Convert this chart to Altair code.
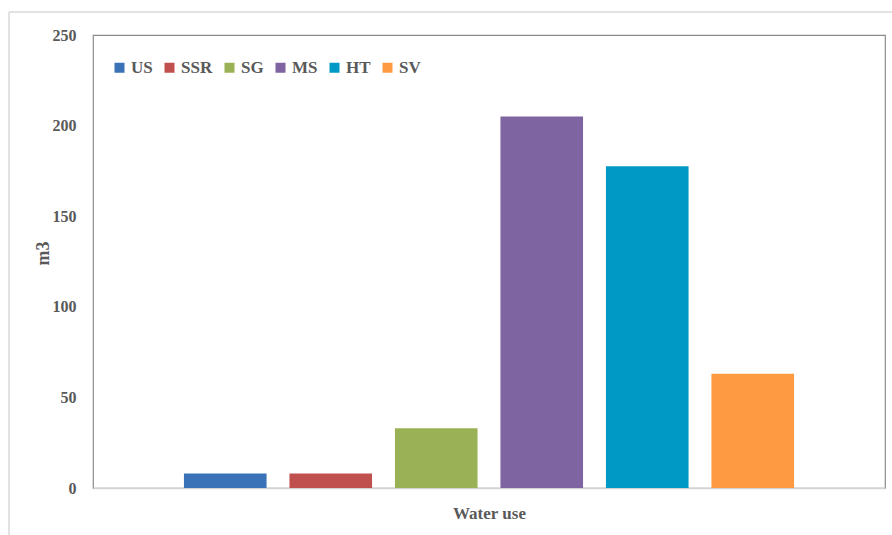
import altair as alt
import pandas as pd

# Water use per scenario (m3)
series = ["US", "SSR", "SG", "MS", "HT", "SV"]
values = [8, 8, 33, 205, 177.5, 63]
colors = ["#3A72B7", "#C0504D", "#9BB155", "#7E64A0", "#0099C5", "#FD9A42"]
y_ticks = [0, 50, 100, 150, 200, 250]

df = pd.DataFrame({"series": series, "value": values})

FONT = "Liberation Serif"
GREY = "#595959"

bars = alt.Chart(df).mark_bar().encode(
    x=alt.X(
        "series:N",
        sort=series,
        scale=alt.Scale(paddingInner=0.217, paddingOuter=0.862),
        axis=alt.Axis(
            labels=False,
            ticks=False,
            title="Water use",
            titleFont=FONT,
            titleFontSize=17,
            titleFontWeight="bold",
            titleColor=GREY,
            titleX=396,
            titleY=30,
            titleBaseline="alphabetic",
            domainColor="#d4d4d4",
            domainWidth=1.5,
        ),
    ),
    y=alt.Y(
        "value:Q",
        scale=alt.Scale(domain=[0, 250], nice=False),
        axis=alt.Axis(
            values=y_ticks,
            grid=False,
            ticks=False,
            domain=False,
            labelFont=FONT,
            labelFontSize=16,
            labelFontWeight="bold",
            labelColor=GREY,
            labelPadding=17,
            title="m3",
            titleFont=FONT,
            titleFontSize=18,
            titleFontWeight="bold",
            titleColor=GREY,
            titleAngle=270,
            titleX=-45,
            titleY=218,
            titleBaseline="alphabetic",
            titleAlign="center",
        ),
    ),
    color=alt.Color(
        "series:N",
        sort=series,
        scale=alt.Scale(domain=series, range=colors),
        legend=alt.Legend(
            title=None,
            orient="none",
            direction="horizontal",
            columns=6,
            legendX=18,
            legendY=24,
            symbolType="square",
            symbolSize=100,
            symbolStrokeWidth=0,
            labelFont=FONT,
            labelFontSize=17,
            labelFontWeight="bold",
            labelColor=GREY,
            labelOffset=3,
            columnPadding=8,
            padding=0,
        ),
    ),
)

# thin outer frame around the figure
frame_df = pd.DataFrame({"k": [0]})
frame_top = alt.Chart(frame_df).mark_rule(color="#d9d9d9", strokeWidth=1.5).encode(
    x=alt.value(-84), x2=alt.value(820), y=alt.value(-23)
)
frame_left = alt.Chart(frame_df).mark_rule(color="#d9d9d9", strokeWidth=1.5).encode(
    x=alt.value(-84), y=alt.value(-23), y2=alt.value(520)
)

chart = (
    alt.layer(frame_top, frame_left, bars)
    .properties(
        width=792,
        height=453,
        autosize=alt.AutoSizeParams(type="none"),
        padding={"left": 93, "top": 35, "right": 7, "bottom": 47},
        background="white",
    )
    .configure_view(stroke="#8c8c8c", strokeWidth=1.2)
)

chart.save("out.html", embed_options={"renderer": "svg", "actions": False})
